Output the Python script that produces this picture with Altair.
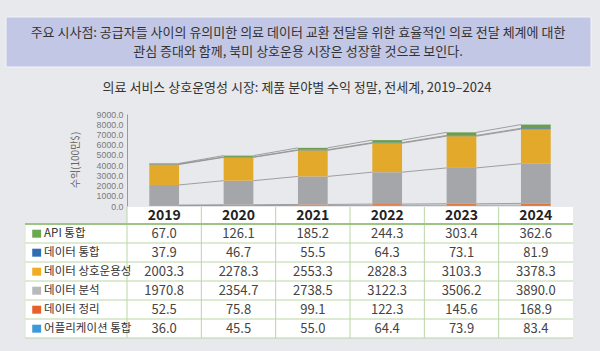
import altair as alt
import pandas as pd

years = ["2019", "2020", "2021", "2022", "2023", "2024"]
series = ["API 통합", "데이터 통합", "데이터 상호운용성", "데이터 분석", "데이터 정리", "어플리케이션 통합"]
colors = ["#6aa84f", "#2f6eb5", "#f0ad22", "#b8b9bc", "#e8602c", "#3d9ad9"]
bar_colors = ["#6b9e4f", "#3b6a99", "#e2a92b", "#a5a6aa", "#e0773a", "#4a9fd8"]
api = [67.0, 126.1, 185.2, 244.3, 303.4, 362.6]
integ = [37.9, 46.7, 55.5, 64.3, 73.1, 81.9]
interop = [2003.3, 2278.3, 2553.3, 2828.3, 3103.3, 3378.3]
analysis = [1970.8, 2354.7, 2738.5, 3122.3, 3506.2, 3890.0]
clean = [52.5, 75.8, 99.1, 122.3, 145.6, 168.9]
app = [36.0, 45.5, 55.0, 64.4, 73.9, 83.4]
values = [api, integ, interop, analysis, clean, app]
y_ticks = [0, 1000, 2000, 3000, 4000, 5000, 6000, 7000, 8000, 9000]

FONT = "Noto Sans CJK KR"

# ---- stacked segments (bottom to top = reverse of table order)
seg_rows = []
for yi, yr in enumerate(years):
    lo = 0.0
    for si in reversed(range(len(series))):
        hi = lo + values[si][yi]
        seg_rows.append({"idx": yi, "year": yr, "series": series[si], "lo": lo, "hi": hi})
        lo = hi
seg = pd.DataFrame(seg_rows)

# series lines between adjacent bars
line_rows = []
for s in series:
    d = seg[seg.series == s].sort_values("idx")
    his = d["hi"].tolist()
    for i in range(len(years) - 1):
        line_rows.append({"series": s, "i": i, "y1": his[i], "y2": his[i + 1]})
lines = pd.DataFrame(line_rows)

# ---- table data
cells = []
for si, s in enumerate(series):
    for yi, yr in enumerate(years):
        cells.append({"row": si, "col": yi, "txt": f"{values[si][yi]:.1f}"})
cells = pd.DataFrame(cells)
labels = pd.DataFrame({"row": list(range(len(series))), "label": series, "color": colors})
hdr = pd.DataFrame({"col": list(range(len(years))), "year": years})

W, H = 600, 351
xs = alt.Scale(domain=[0, 6], range=[127, 573])
ys = alt.Scale(domain=[0, 9000], range=[206, 114], nice=False, zero=False)
ts = alt.Scale(domain=[0, 6], range=[224, 338], nice=False, zero=False)

base_seg = alt.Chart(seg)

bars = base_seg.transform_calculate(
    xl="datum.idx + 0.3", xr="datum.idx + 0.7"
).mark_rect().encode(
    x=alt.X("xl:Q", scale=xs, axis=None),
    x2="xr:Q",
    y=alt.Y("lo:Q", scale=ys, axis=alt.Axis(
        values=y_ticks, format=".1f", offset=-127, ticks=False, grid=False,
        domainColor="#9a9a9a", domainWidth=1, labelColor="#7a7a7a",
        labelFont="Liberation Sans", labelFontSize=8.8, labelPadding=4, labelOverlap=False,
        labelBound=False, title=None)),
    y2="hi:Q",
    color=alt.Color("series:N", scale=alt.Scale(domain=series, range=bar_colors), legend=None),
)

slines = alt.Chart(lines).transform_calculate(
    xa="datum.i + 0.7", xb="datum.i + 1.3"
).mark_rule(color="#8c8c8c", strokeWidth=0.8).encode(
    x=alt.X("xa:Q", scale=xs, axis=None), x2="xb:Q",
    y=alt.Y("y1:Q", scale=ys, axis=None), y2="y2:Q",
)

# table background
bg_df = pd.DataFrame({"x1": [0.0, -1.375], "x2": [6.0, 6.0], "r1": [-0.9, 0.0], "r2": [6.0, 6.0]})
table_bg = alt.Chart(bg_df).mark_rect(color="white").encode(
    x=alt.X("x1:Q", scale=xs, axis=None), x2="x2:Q",
    y=alt.Y("r1:Q", scale=ts, axis=None), y2="r2:Q",
)

# horizontal grid lines
h_df = pd.DataFrame({"r": [1, 2, 3, 4, 5, 6]})
hlines = alt.Chart(h_df).mark_rule(color="#b9d6a5", strokeWidth=1).encode(
    x=alt.value(25), x2=alt.value(573),
    y=alt.Y("r:Q", scale=ts, axis=None),
)
head_line = alt.Chart(pd.DataFrame({"r": [0]})).mark_rule(color="#9cc483", strokeWidth=2).encode(
    x=alt.value(25), x2=alt.value(573),
    y=alt.Y("r:Q", scale=ts, axis=None),
)
v_df = pd.DataFrame({"c": [0, 1, 2, 3, 4, 5], "r1": [-0.9] * 6, "r2": [6.0] * 6})
vlines = alt.Chart(v_df).mark_rule(color="#b9d6a5", strokeWidth=1).encode(
    x=alt.X("c:Q", scale=xs, axis=None),
    y=alt.Y("r1:Q", scale=ts, axis=None), y2="r2:Q",
)
left_line = alt.Chart(pd.DataFrame({"r1": [0.0], "r2": [6.0]})).mark_rule(color="#d6e6cb", strokeWidth=1).encode(
    x=alt.value(25),
    y=alt.Y("r1:Q", scale=ts, axis=None), y2="r2:Q",
)

hdr_text = alt.Chart(hdr).transform_calculate(
    xc="datum.col + 0.5", yr="-0.42"
).mark_text(font=FONT, fontSize=14, fontWeight="bold", color="#222222").encode(
    x=alt.X("xc:Q", scale=xs, axis=None),
    y=alt.Y("yr:Q", scale=ts, axis=None),
    text="year:N",
)

cell_text = alt.Chart(cells).transform_calculate(
    xc="datum.col + 0.5", yc="datum.row + 0.55"
).mark_text(font=FONT, fontSize=13, color="#444444").encode(
    x=alt.X("xc:Q", scale=xs, axis=None),
    y=alt.Y("yc:Q", scale=ts, axis=None),
    text="txt:N",
)

sq = alt.Chart(labels).transform_calculate(
    x1="-1.375 + 0.1", x2="-1.375 + 0.22", y1="datum.row + 0.3", y2="datum.row + 0.72"
).mark_rect().encode(
    x=alt.X("x1:Q", scale=xs, axis=None), x2="x2:Q",
    y=alt.Y("y1:Q", scale=ts, axis=None), y2="y2:Q",
    color=alt.Color("color:N", scale=None, legend=None),
)

lab_text = alt.Chart(labels).transform_calculate(
    xl="-1.375 + 0.26", yc="datum.row + 0.52"
).mark_text(font=FONT, fontSize=11.5, color="#333333", align="left").encode(
    x=alt.X("xl:Q", scale=xs, axis=None),
    y=alt.Y("yc:Q", scale=ts, axis=None),
    text="label:N",
)

# decorations
dummy = pd.DataFrame({"a": [0]})
banner = alt.Chart(dummy).mark_rect(color="#c3c7e6", stroke="#f2f3f8", strokeWidth=1).encode(
    x=alt.value(6), x2=alt.value(591), y=alt.value(17), y2=alt.value(67)
)
b1 = alt.Chart(dummy).mark_text(font=FONT, fontSize=13, color="#333333").encode(
    x=alt.value(298), y=alt.value(33),
    text=alt.value("주요 시사점: 공급자들 사이의 유의미한 의료 데이터 교환 전달을 위한 효율적인 의료 전달 체계에 대한"),
)
b2 = alt.Chart(dummy).mark_text(font=FONT, fontSize=13, color="#333333").encode(
    x=alt.value(298), y=alt.value(52),
    text=alt.value("관심 증대와 함께, 북미 상호운용 시장은 성장할 것으로 보인다."),
)
title = alt.Chart(dummy).mark_text(font=FONT, fontSize=13, color="#333333").encode(
    x=alt.value(297), y=alt.value(88),
    text=alt.value("의료 서비스 상호운영성 시장: 제품 분야별 수익 정말, 전세계, 2019–2024"),
)
ytitle = alt.Chart(dummy).mark_text(font=FONT, fontSize=10, color="#666666", angle=270).encode(
    x=alt.value(76), y=alt.value(160),
    text=alt.value("수익(100만$)"),
)

chart = alt.layer(
    banner, b1, b2, title, ytitle,
    table_bg, slines, bars, hlines, vlines, left_line, head_line,
    hdr_text, cell_text, sq, lab_text,
).resolve_scale(y="independent", color="independent").properties(
    width=W, height=H, background="#e8e9ec", padding=0,
    autosize=alt.AutoSizeParams(type="none"),
).configure_view(stroke=None)

chart.save("out.html", embed_options={"renderer": "svg", "actions": False})
